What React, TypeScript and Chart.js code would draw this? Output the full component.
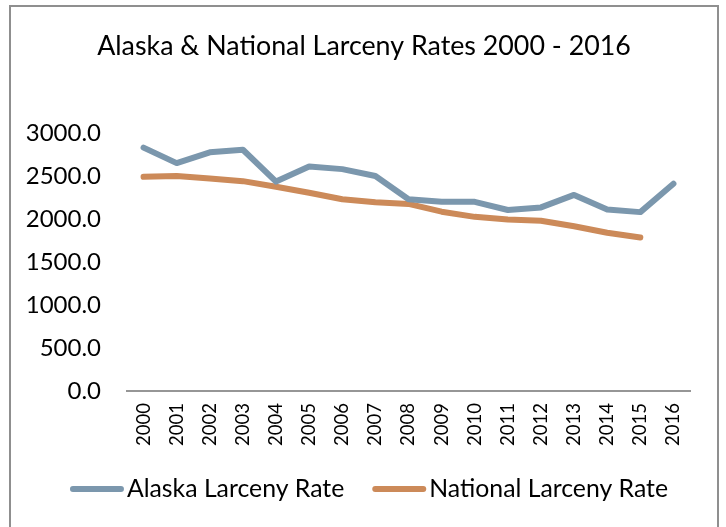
import React, { useEffect, useRef } from "react";
import { Chart, registerables } from "chart.js";

Chart.register(...registerables);

const years = ["2000","2001","2002","2003","2004","2005","2006","2007","2008","2009","2010","2011","2012","2013","2014","2015","2016"];
const alaskaRate = [2830, 2650, 2775, 2805, 2435, 2610, 2580, 2500, 2230, 2200, 2200, 2105, 2135, 2280, 2110, 2080, 2410];
const nationalRate = [2490, 2500, 2470, 2440, 2375, 2305, 2230, 2195, 2175, 2085, 2025, 1995, 1980, 1915, 1840, 1785, null];
const seriesNames = ["Alaska Larceny Rate", "National Larceny Rate"];
const titleText = "Alaska & National Larceny Rates 2000 - 2016";

const BLUE = "#7b97ad";
const ORANGE = "#cc8a59";
const FONT = "Lato";

const titleAndLegend = {
  id: "titleAndLegend",
  afterDraw(chart: any) {
    const ctx = chart.ctx;
    ctx.save();
    // title
    ctx.font = `26.8px ${FONT}`;
    ctx.fillStyle = "#000";
    ctx.textAlign = "center";
    ctx.textBaseline = "middle";
    ctx.fillText(titleText, 364, 46);

    // legend
    const fontSize = 24.8;
    const lineLen = 54;
    const gap = 3;
    const itemGap = 28;
    const cy = 489;
    ctx.font = `${fontSize}px ${FONT}`;
    const ds = chart.data.datasets;
    const widths = ds.map((d: any) => ctx.measureText(d.label).width);
    const total = widths.reduce((a: number, w: number) => a + w + lineLen + gap, 0) + itemGap * (ds.length - 1);
    let x = 369 - total / 2;
    ds.forEach((d: any, i: number) => {
      ctx.strokeStyle = d.borderColor;
      ctx.lineWidth = 6;
      ctx.lineCap = "round";
      ctx.beginPath();
      ctx.moveTo(x + 3, cy);
      ctx.lineTo(x + lineLen - 3, cy);
      ctx.stroke();
      x += lineLen + gap;
      ctx.fillStyle = "#000";
      ctx.textBaseline = "middle";
      ctx.textAlign = "left";
      ctx.fillText(d.label, x, cy);
      x += widths[i] + itemGap;
    });
    ctx.restore();
  },
};

export default function App() {
  const ref = useRef<HTMLCanvasElement | null>(null);

  useEffect(() => {
    if (!ref.current) return;
    const chart = new Chart(ref.current, {
      type: "line",
      data: {
        labels: years,
        datasets: [
          {
            label: seriesNames[0],
            data: alaskaRate,
            borderColor: BLUE,
            backgroundColor: BLUE,
            borderWidth: 6,
            pointRadius: 0,
            borderCapStyle: "round",
            borderJoinStyle: "round",
            tension: 0,
          },
          {
            label: seriesNames[1],
            data: nationalRate,
            borderColor: ORANGE,
            backgroundColor: ORANGE,
            borderWidth: 6,
            pointRadius: 0,
            borderCapStyle: "round",
            borderJoinStyle: "round",
            tension: 0,
          },
        ],
      },
      options: {
        animation: false,
        responsive: false,
        maintainAspectRatio: false,
        layout: { padding: { left: 20, right: 36, top: 133, bottom: 56 } },
        plugins: {
          tooltip: { enabled: false },
          legend: { display: false },
          title: { display: false },
        },
        scales: {
          x: {
            offset: true,
            grid: { display: false, drawTicks: false },
            border: { display: true, color: "#969696", width: 2 },
            ticks: {
              color: "#000",
              font: { family: FONT, size: 18.5 },
              minRotation: 90,
              maxRotation: 90,
              autoSkip: false,
              padding: 12,
            },
            afterFit: (s: any) => { s.height = 80; },
          },
          y: {
            min: 0,
            max: 3000,
            grid: { display: false, drawTicks: false },
            border: { display: false },
            ticks: {
              stepSize: 500,
              color: "#000",
              font: { family: FONT, size: 24 },
              padding: 26,
              callback: (v: any) => Number(v).toFixed(1),
            },
            afterFit: (s: any) => { s.width = 107; },
          },
        },
      },
      plugins: [titleAndLegend],
    });
    return () => chart.destroy();
  }, []);

  return (
    <div style={{ position: "absolute", left: 0, top: 0, width: 726, height: 527, overflow: "hidden", background: "#fff" }}>
      <div style={{ position: "absolute", left: 9, top: 5, width: 710, height: 540, border: "2px solid #8f8f8f", boxSizing: "border-box" }} />
      <canvas ref={ref} width={726} height={527} style={{ position: "absolute", left: 0, top: 0 }} />
    </div>
  );
}
